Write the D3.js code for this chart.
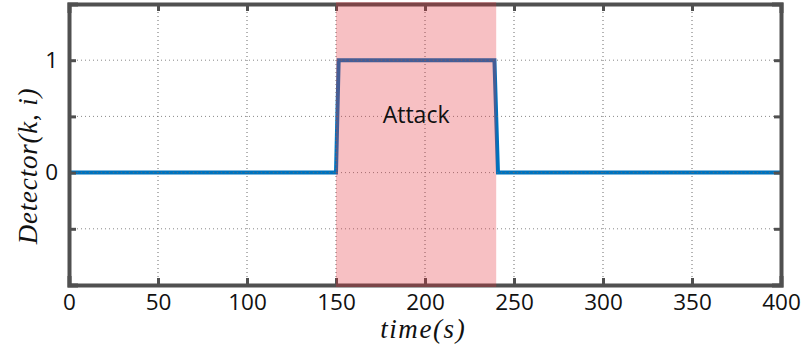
<!DOCTYPE html>
<html>
<head>
<meta charset="utf-8">
<script src="https://cdn.jsdelivr.net/npm/d3@7"></script>
<style>
  html, body { margin: 0; padding: 0; background: #fff; }
  svg { display: block; }
</style>
</head>
<body>
<svg id="chart" width="804" height="350"></svg>
<script>
// Detector output over time
const timeS = [0, 150, 151.5, 239, 241, 400];
const detector = [0, 0, 1, 1, 0, 0];

// Attack window
const attackStart = 150;
const attackEnd = 240;
const attackLabel = "Attack";

// Ticks
const xTicks = [0, 50, 100, 150, 200, 250, 300, 350, 400];
const yTicks = [-1, -0.5, 0, 0.5, 1, 1.5];
const yTickLabels = { "0": "0", "1": "1" };

const svg = d3.select("#chart");
const margin = { left: 69, right: 23, top: 4, bottom: 65 };
const W = 804, H = 350;

const x = d3.scaleLinear().domain([0, 400]).range([margin.left, W - margin.right]);
const y = d3.scaleLinear().domain([-1, 1.5]).range([H - margin.bottom, margin.top]);

const axisColor = "#505050";
const sans = "'Open Sans', 'Noto Sans', sans-serif";
const serif = "'Liberation Serif', 'DejaVu Serif', serif";

// data line
const line = d3.line().x((d, i) => x(timeS[i])).y(d => y(d));
svg.append("path")
  .datum(detector)
  .attr("d", line)
  .attr("fill", "none")
  .attr("stroke", "#0072bd")
  .attr("stroke-width", 4)
  .attr("stroke-linejoin", "miter");

// dotted grid on top of the data
const grid = svg.append("g");
grid.selectAll(".gx").data(xTicks.slice(1, -1)).join("line")
  .attr("x1", d => x(d)).attr("x2", d => x(d))
  .attr("y1", y(1.5)).attr("y2", y(-1))
  .attr("stroke", "#6a6a6a").attr("stroke-width", 1)
  .attr("stroke-dasharray", "1,3");
grid.selectAll(".gy").data(yTicks.slice(1, -1)).join("line")
  .attr("y1", d => y(d)).attr("y2", d => y(d))
  .attr("x1", x(0)).attr("x2", x(400))
  .attr("stroke", "#6a6a6a").attr("stroke-width", 1)
  .attr("stroke-opacity", 0.8)
  .attr("stroke-dasharray", "1,3");

// axes (ticks point inward)
const xAxisB = d3.axisBottom(x).tickValues(xTicks).tickSize(-7).tickPadding(9).tickFormat(d3.format("d"));
const xAxisT = d3.axisTop(x).tickValues(xTicks).tickSize(-7).tickFormat("");
const yAxisL = d3.axisLeft(y).tickValues(yTicks).tickSize(-7).tickPadding(11)
  .tickFormat(d => yTickLabels[String(d)] || "");

function styleAxis(g) {
  g.select(".domain").attr("stroke", axisColor).attr("stroke-width", 4);
  g.selectAll(".tick line").attr("stroke", axisColor).attr("stroke-width", 3);
  g.selectAll(".tick text").attr("fill", "#111").style("font-family", sans).style("font-size", "22.5px");
}

svg.append("g").attr("transform", `translate(0,${y(-1)})`).call(xAxisB).call(styleAxis);
svg.append("g").attr("transform", `translate(0,${y(1.5)})`).call(xAxisT).call(styleAxis);
svg.append("g").attr("transform", `translate(${x(0)},0)`).call(yAxisL).call(styleAxis);
svg.append("g").attr("transform", `translate(${x(400)},0)`)
  .call(d3.axisRight(y).tickValues(yTicks).tickSize(-7).tickFormat("")).call(styleAxis);

svg.selectAll(".domain").attr("stroke-linecap", "square");

// translucent attack band over everything
svg.append("rect")
  .attr("x", x(attackStart)).attr("width", x(attackEnd) - x(attackStart))
  .attr("y", y(1.5) - 2).attr("height", y(-1) - y(1.5) + 4)
  .attr("fill", "rgb(228,45,55)").attr("fill-opacity", 0.3);

svg.append("text")
  .attr("x", x((attackStart + attackEnd) / 2)).attr("y", 123)
  .attr("text-anchor", "middle")
  .style("font-family", sans).style("font-size", "23px").attr("fill", "#111")
  .text(attackLabel);

// axis titles
svg.append("text")
  .attr("x", x(199)).attr("y", 338)
  .attr("text-anchor", "middle")
  .style("font-family", serif).style("font-style", "italic").style("font-size", "27px")
  .style("letter-spacing", "1.6px")
  .attr("fill", "#111")
  .text("time(s)");

svg.append("text")
  .attr("transform", `translate(37,${166}) rotate(-90)`)
  .attr("text-anchor", "middle")
  .style("font-family", serif).style("font-style", "italic").style("font-size", "27px")
  .style("letter-spacing", "0.8px")
  .attr("fill", "#111")
  .text("Detector(k, i)");
</script>
</body>
</html>
